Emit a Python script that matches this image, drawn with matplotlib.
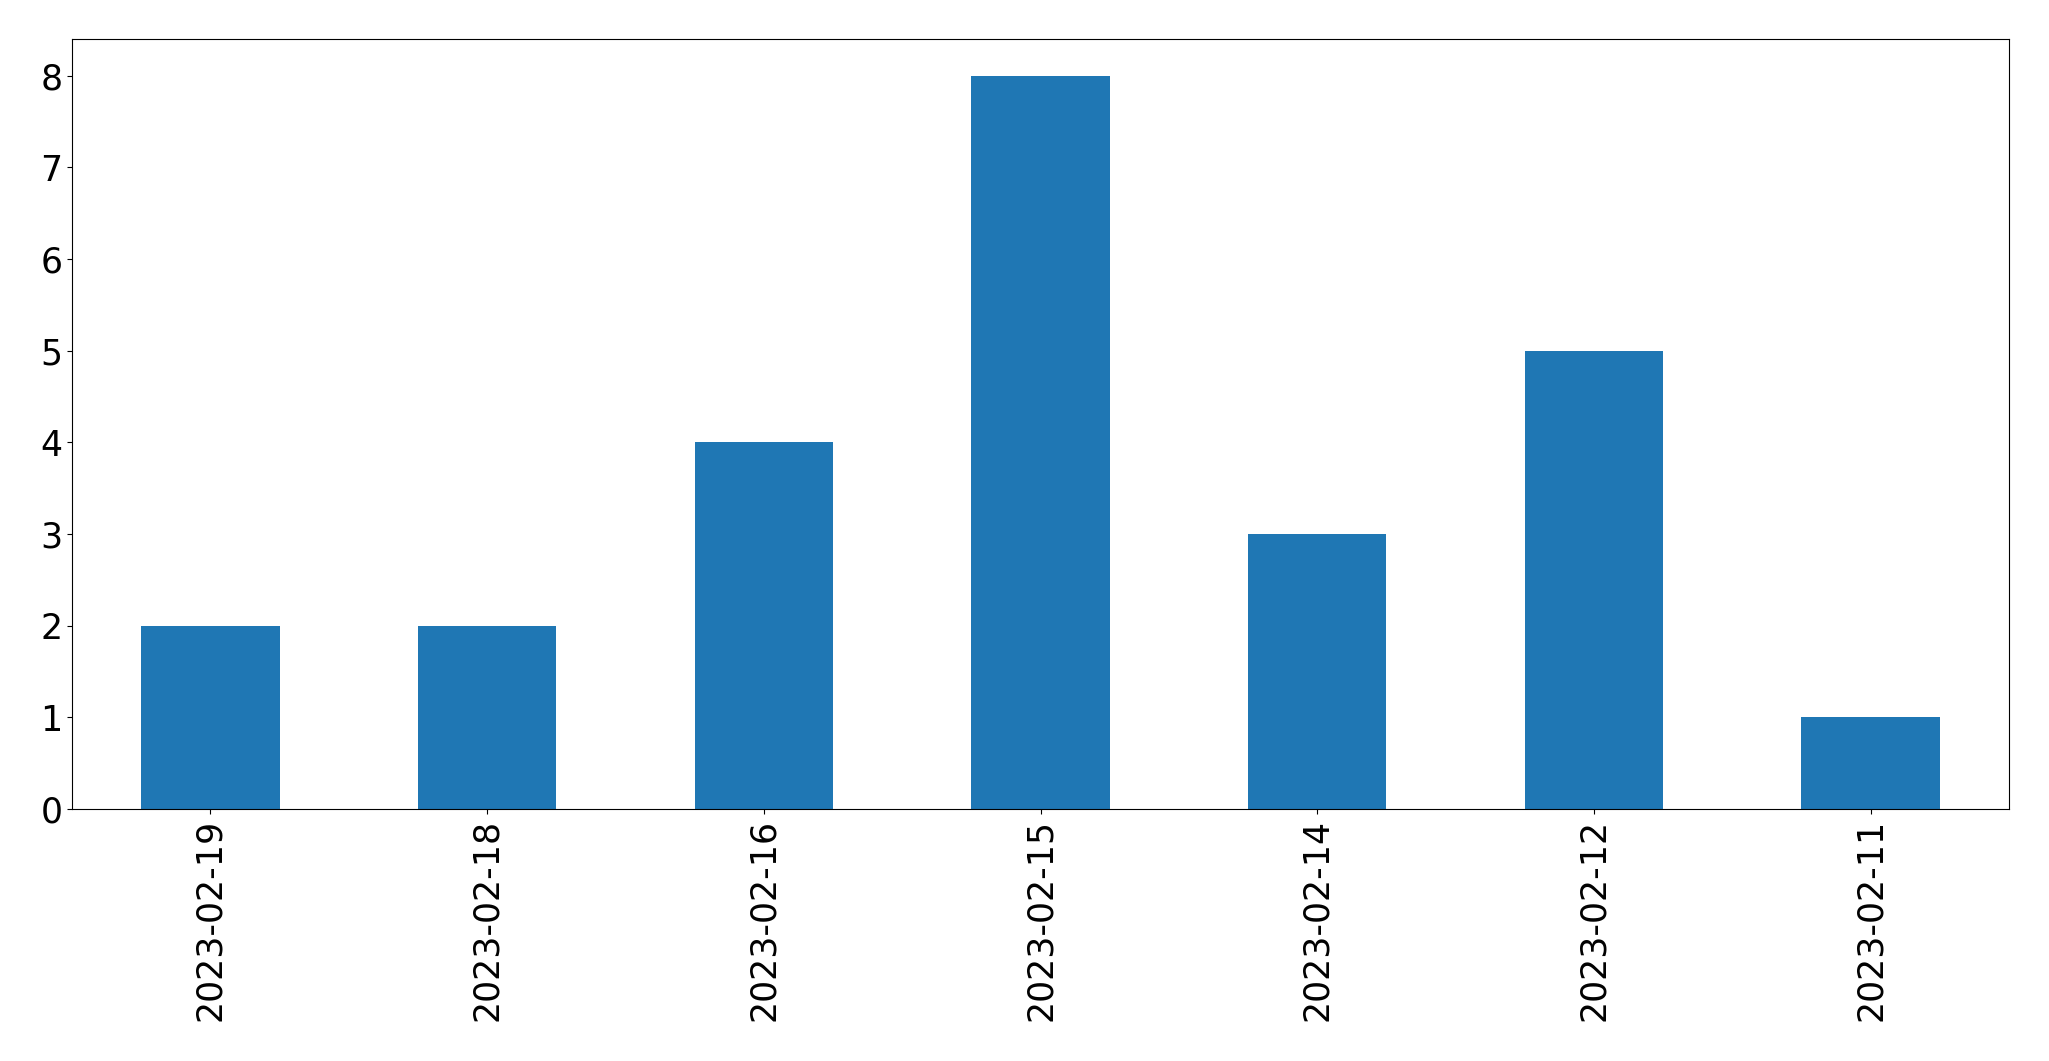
import matplotlib
matplotlib.use("Agg")
import matplotlib.pyplot as plt

# messages per day, most recent first
dates = ["2023-02-19", "2023-02-18", "2023-02-16", "2023-02-15",
         "2023-02-14", "2023-02-12", "2023-02-11"]
counts = [2, 2, 4, 8, 3, 5, 1]

fig = plt.figure(figsize=(20.49, 10.61), dpi=100)
ax = fig.add_axes([72 / 2049, 1 - 809 / 1061, (2009 - 72) / 2049, (809 - 39) / 1061])

pos = list(range(len(dates)))
ax.bar(pos, counts, width=0.5, color="#1f77b4")
ax.set_xlim(-0.5, len(dates) - 0.5)
ax.set_xticks(pos)
ax.set_xticklabels(dates, rotation=90)
ax.tick_params(labelsize=25)

fig.savefig("out.png", dpi=100)
